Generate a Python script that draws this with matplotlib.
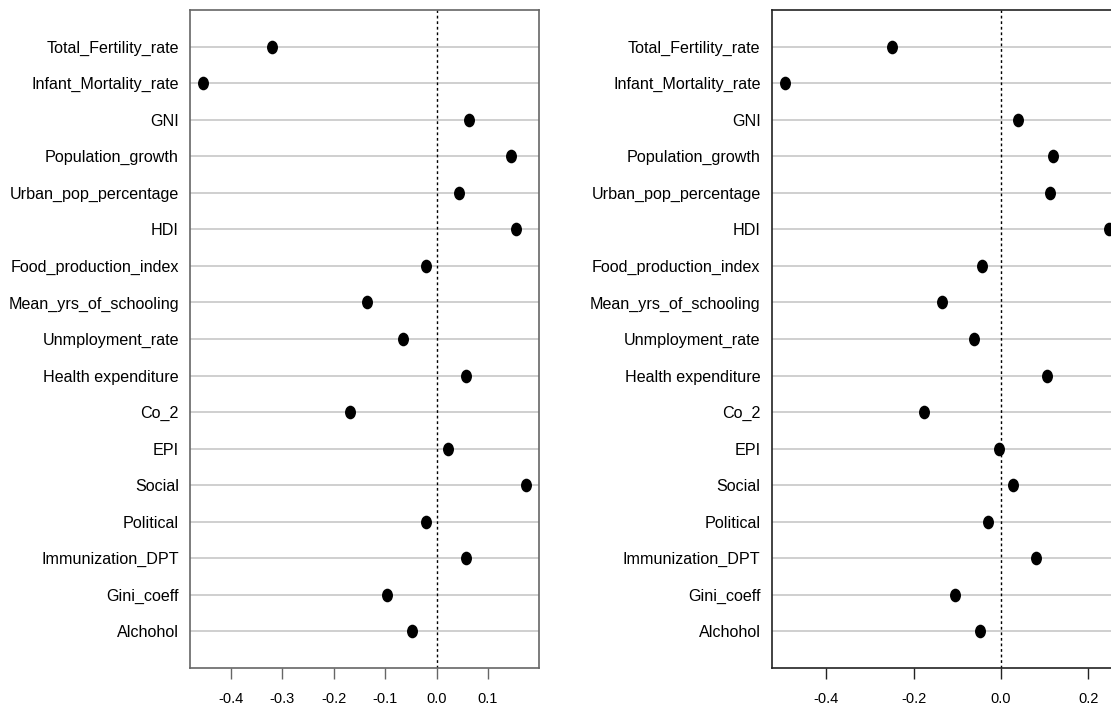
import numpy as np
import matplotlib
matplotlib.use("Agg")
import matplotlib.pyplot as plt
from matplotlib.markers import MarkerStyle
from matplotlib.transforms import Affine2D

variables = ["Total_Fertility_rate", "Infant_Mortality_rate", "GNI",
             "Population_growth", "Urban_pop_percentage", "HDI",
             "Food_production_index", "Mean_yrs_of_schooling",
             "Unmployment_rate", "Health expenditure", "Co_2", "EPI",
             "Social", "Political", "Immunization_DPT", "Gini_coeff",
             "Alchohol"]

coef_left = [-0.320, -0.454, 0.063, 0.144, 0.043, 0.154,
             -0.021, -0.135, -0.066, 0.058, -0.168, 0.023,
             0.174, -0.021, 0.057, -0.097, -0.048]

coef_right = [-0.250, -0.495, 0.040, 0.119, 0.113, 0.248,
              -0.043, -0.136, -0.061, 0.105, -0.177, -0.005,
              0.027, -0.029, 0.080, -0.105, -0.047]

ticks_left = [-0.4, -0.3, -0.2, -0.1, 0.0, 0.1]
ticks_right = [-0.4, -0.2, 0.0, 0.2]

plt.rcParams["font.family"] = ["Liberation Sans", "DejaVu Sans"]

W, H = 1111, 709
fig = plt.figure(figsize=(W / 100, H / 100), dpi=100)

# oval dots
dot = MarkerStyle("o", transform=Affine2D().scale(0.78, 1.0))


def dotchart(ax, values, ticks, xlim, frame):
    n = len(values)
    ypos = np.arange(n, 0, -1)
    for y in ypos:
        ax.axhline(y, color="#cccccc", lw=1.3, zorder=1)
    ax.axvline(0, color="black", lw=1.0, ls=(0, (2, 2)), zorder=2)
    ax.plot(values, ypos, ls="none", marker=dot, ms=8.8,
            color="black", zorder=3)
    ax.set_xlim(*xlim)
    ax.set_ylim(0, n + 1)
    ax.set_yticks(ypos)
    ax.set_yticklabels(variables, fontsize=11.6)
    ax.tick_params(axis="y", length=0, pad=8)
    ax.set_xticks(ticks)
    ax.set_xticklabels([f"{t:.1f}" for t in ticks], fontsize=10.5)
    ax.tick_params(axis="x", length=8, width=1.0, color=frame, pad=9)
    for s in ax.spines.values():
        s.set_color(frame)
        s.set_linewidth(1.2)


top, bottom = 10, 668
ax1 = fig.add_axes([190 / W, 1 - bottom / H, 349 / W, (bottom - top) / H])
dotchart(ax1, coef_left, ticks_left, (-0.479, 0.199), "#666666")

ax2 = fig.add_axes([771.7 / W, 1 - bottom / H, 350.7 / W, (bottom - top) / H])
dotchart(ax2, coef_right, ticks_right, (-0.525, 0.278), "#222222")

fig.savefig("out.png", dpi=100)
